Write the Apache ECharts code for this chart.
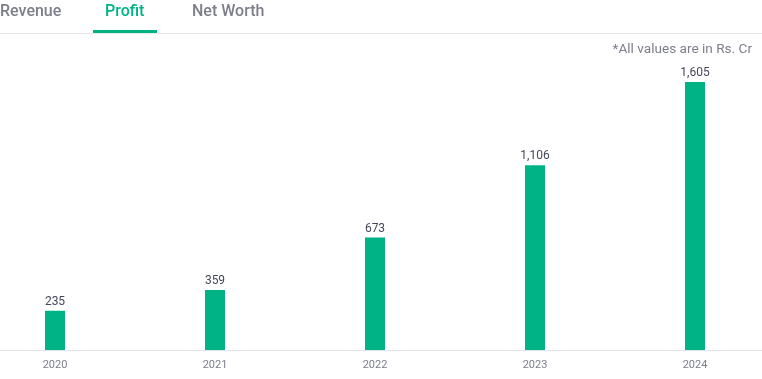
<!DOCTYPE html>
<html>
<head>
<meta charset="utf-8">
<script src="https://cdn.jsdelivr.net/npm/echarts@6/dist/echarts.min.js"></script>
<style>
html,body{margin:0;padding:0;background:#fff;}
#c{width:762px;height:379px;}
</style>
</head>
<body>
<div id="c"></div>
<script>
var years = ['2020', '2021', '2022', '2023', '2024'];
var profit = [235, 359, 673, 1106, 1605];
var tabs = ['Revenue', 'Profit', 'Net Worth'];
var note = '*All values are in Rs. Cr';

var chart = echarts.init(document.getElementById('c'));
var green = '#00b386';
var font = 'Roboto, "Noto Sans", sans-serif';
chart.setOption({
  animation: false,
  grid: { left: -25, width: 800, top: 82, bottom: 29, containLabel: false, outerBoundsMode: 'none' },
  xAxis: {
    type: 'category',
    data: years,
    axisLine: { lineStyle: { color: '#e3e3e3', width: 1 } },
    axisTick: { show: false },
    axisLabel: { color: '#7c7e8c', fontSize: 11, fontFamily: font, margin: 10 }
  },
  yAxis: {
    type: 'value',
    min: 0,
    max: 'dataMax',
    show: false,
    splitLine: { show: false }
  },
  series: [{
    type: 'bar',
    data: profit,
    barWidth: 20,
    itemStyle: { color: green },
    label: {
      show: true,
      position: 'top',
      distance: 3,
      color: '#44475b',
      fontSize: 12,
      fontFamily: font,
      formatter: function (p) { return p.value.toLocaleString('en-US'); }
    }
  }],
  graphic: [
    { type: 'rect', shape: { x: 0, y: 33, width: 762, height: 1 }, style: { fill: '#e8e8e8' } },
    { type: 'rect', shape: { x: 93, y: 30, width: 64, height: 3 }, style: { fill: green } },
    { type: 'text', left: 0, top: 4, style: { text: tabs[0], fill: '#7c7e8c', font: '500 16px ' + font } },
    { type: 'text', left: 105, top: 4, style: { text: tabs[1], fill: green, font: '500 16px ' + font } },
    { type: 'text', left: 192, top: 4, style: { text: tabs[2], fill: '#7c7e8c', font: '500 16px ' + font } },
    { type: 'text', right: 10, top: 43, style: { text: note, fill: '#7c7e8c', font: '13.6px ' + font } }
  ]
});
</script>
</body>
</html>
